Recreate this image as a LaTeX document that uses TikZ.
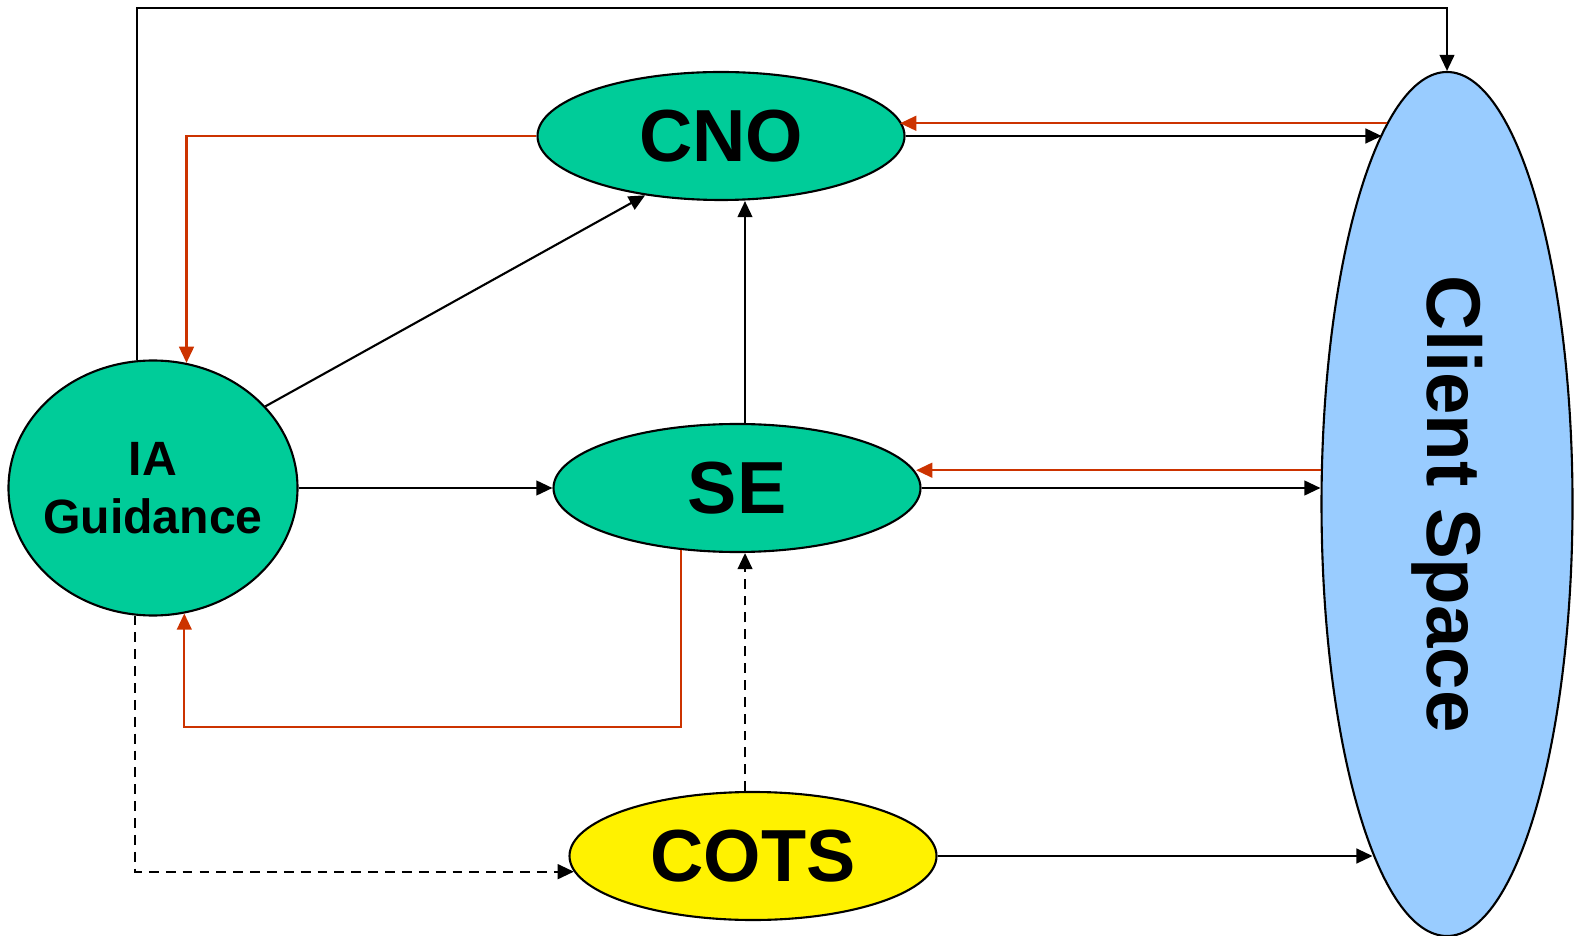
\documentclass[tikz,border=0pt]{standalone}
\usepackage{fontspec}
\setmainfont{Liberation Sans}
\usetikzlibrary{shapes.geometric, positioning, arrows.meta}
\definecolor{boxgreen}{RGB}{0,204,153}
\definecolor{spaceblue}{RGB}{153,204,255}
\definecolor{backred}{RGB}{204,51,0}
\begin{document}
\begin{tikzpicture}[node distance=3cm,on grid,
		unit/.style={ellipse,draw,line width=0.6pt,fill=boxgreen,inner sep=0pt,
			minimum width=3.67cm,minimum height=1.28cm,font=\fontsize{21}{25}\selectfont\bfseries},
		flow/.style={line width=0.6pt,-{Triangle[length=4.6pt,width=4.2pt]}},
		back/.style={flow,backred},
		maybe/.style={flow,dash pattern=on 2.8pt off 2pt}]
			\useasboundingbox (0,0) rectangle (15.74,-9.36);
			\node[unit] (se) at (7.37,-4.88)		{SE};
			\node[unit] (cno) [above left=3.52cm and 0.16cm of se]		{CNO};
			\node[unit,fill=yellow] (cots) [below right=3.68cm and 0.16cm of se]		{COTS};
			\node[unit,minimum width=2.89cm,minimum height=2.55cm,align=center,inner xsep=-4pt,
				font=\fontsize{13.7}{16.4}\selectfont\bfseries] (ia) [left=5.84cm of se]		{IA\\Guidance};
			\node[unit,fill=spaceblue,minimum width=2.51cm,minimum height=8.64cm,
				font=\fontsize{21.7}{26}\selectfont\bfseries] (cs)
				[below right=0.16cm and 7.10cm of se]		{\rotatebox{-90}{Client Space}};
			\coordinate (toprail) at (7.9,-0.08);
			\coordinate (lowrail) at (4,-7.27);
			% black links
			\draw[flow] (ia.97.2) -- (ia.97.2 |- toprail) -| (cs.north);
			\draw[flow] (cno.east) -- (cno.east -| cs.100);
			\draw[flow] (ia.36.1) -- (cno.218.4);
			\draw[flow] (se.83) -- (se.83 |- cno.south);
			\draw[flow] (ia.east) -- (se.west);
			\draw[flow] (se.east) -- (se.east -| cs.west);
			\draw[flow] (cots.east) -- (cots.east -| cs.258.3);
			% red feedback
			\draw[back] (cs.99) -- (cs.99 -| cno.5);
			\draw[back] (cno.west) -| (ia.75.5);
			\draw[back] (cs.165.8) -- (cs.165.8 -| se.5);
			\draw[back] (se.228) -- (se.228 |- lowrail) -| (ia.284.5);
			% dashed
			\draw[maybe] (cots.97.1) -- (cots.97.1 |- se.south);
			\draw[maybe] (ia.262.8) |- (cots.185);
	\end{tikzpicture}
\end{document}
